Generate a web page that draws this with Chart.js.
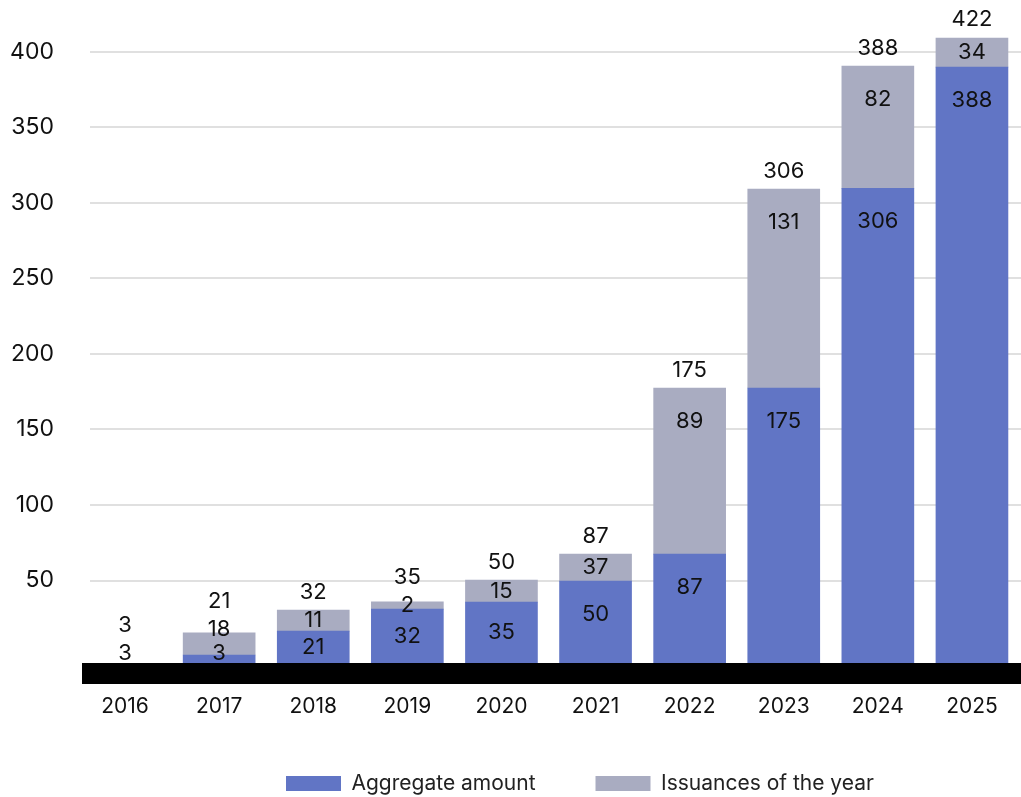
<!DOCTYPE html>
<html>
<head>
<meta charset="utf-8">
<script src="https://cdn.jsdelivr.net/npm/chart.js@4.4.1/dist/chart.umd.min.js"></script>
<style>
html,body{margin:0;padding:0;background:#ffffff;}
#wrap{width:1021px;height:797px;}
</style>
</head>
<body>
<div id="wrap"><canvas id="c" width="1021" height="797"></canvas></div>
<script>
// ---- data ----
const years = ['2016','2017','2018','2019','2020','2021','2022','2023','2024','2025'];
// bar heights as drawn in the picture
const aggregateBar = [null, 0.7, 16.5, 31.1, 35.7, 49.6, 67.5, 177.4, 309.5, 389.8];
const issuanceBar  = [null, 14.7, 13.9, 4.8, 14.6, 17.9, 109.9, 131.6, 81.0, 20.5];
// value labels as printed in the picture
const aggregateLabels = [null, '3', '21', '32', '35', '50', '87', '175', '306', '388'];
const issuanceLabels  = ['3', '18', '11', '2', '15', '37', '89', '131', '82', '34'];
const totalLabels     = ['3', '21', '32', '35', '50', '87', '175', '306', '388', '422'];
const yTicks = [50, 100, 150, 200, 250, 300, 350, 400];
const seriesNames = ['Aggregate amount', 'Issuances of the year'];

// ---- styling constants ----
const BLUE = '#6175c5';
const GREY = '#a9acc1';
const TEXT = '#111111';
const Y_MIN = -18.5, Y_MAX = 409.2, BAND_TOP = -4.6;

Chart.defaults.font.family = 'Inter, "Noto Sans", sans-serif';

const decor = {
  id: 'decor',
  afterLayout(chart) {
    const l = chart.legend;
    if (l && l.lineWidths) {
      const pad = l.options.labels.padding;
      const start = (l.left + pad + l.right - l.lineWidths[0]) / 2;
      const d = 286 - start;
      l.left += d; l.right += d;
    }
  },
  beforeDatasetsDraw(chart) {
    const {ctx, scales: {y}} = chart;
    ctx.save();
    ctx.strokeStyle = '#e0e0e0';
    ctx.lineWidth = 2;
    yTicks.forEach(v => {
      const py = Math.round(y.getPixelForValue(v));
      ctx.beginPath();
      ctx.moveTo(90, py);
      ctx.lineTo(chart.width, py);
      ctx.stroke();
    });
    ctx.restore();
  },
  afterDatasetsDraw(chart) {
    const {ctx, chartArea, scales: {x, y}} = chart;
    ctx.save();
    const bandTop = y.getPixelForValue(BAND_TOP);
    ctx.fillStyle = '#000000';
    ctx.fillRect(82, bandTop, chart.width - 82, chartArea.bottom - bandTop);

    ctx.fillStyle = TEXT;
    ctx.font = '22px Inter, "Noto Sans", sans-serif';
    ctx.textAlign = 'center';
    ctx.textBaseline = 'middle';
    const K = 33;
    const floor = bandTop - 9.5;
    years.forEach((_, i) => {
      const cx = x.getPixelForValue(i);
      const agg = aggregateBar[i] ?? 0;
      const iss = issuanceBar[i] ?? 0;
      const darkTop = y.getPixelForValue(agg);
      const greyTop = Math.max(y.getPixelForValue(agg + iss), chartArea.top);
      let darkY = null;
      if (aggregateLabels[i] != null) {
        darkY = Math.min(darkTop + Math.min(K, (bandTop - darkTop) / 2), floor);
        ctx.fillText(aggregateLabels[i], cx, darkY);
      }
      let greyY = Math.min(greyTop + Math.min(K, (darkTop - greyTop) / 2), floor);
      if (darkY !== null) greyY = Math.min(greyY, darkY - 24);
      ctx.fillText(issuanceLabels[i], cx, greyY);
      const totY = Math.min(greyTop - 18, greyY - 28);
      ctx.fillText(totalLabels[i], cx, totY);
    });
    ctx.restore();
  }
};

new Chart(document.getElementById('c'), {
  type: 'bar',
  data: {
    labels: years,
    datasets: [
      { label: seriesNames[0], data: aggregateBar, backgroundColor: BLUE, base: Y_MIN, barThickness: 72 },
      { label: seriesNames[1], data: issuanceBar, backgroundColor: GREY, barThickness: 72 }
    ]
  },
  options: {
    responsive: false,
    animation: false,
    devicePixelRatio: 1,
    layout: { autoPadding: false, padding: { top: 0, left: 0, right: 2, bottom: -7 } },
    scales: {
      x: {
        stacked: true,
        grid: { display: false, drawTicks: false },
        border: { display: false },
        ticks: { color: TEXT, font: { size: 21 }, padding: 10, maxRotation: 0 },
        afterFit(s) { s.height = 29; }
      },
      y: {
        stacked: true,
        min: Y_MIN,
        max: Y_MAX,
        grid: { display: false, drawTicks: false },
        border: { display: false },
        ticks: { color: TEXT, font: { size: 23 }, padding: 24 },
        afterBuildTicks(s) { s.ticks = yTicks.map(v => ({ value: v })); },
        afterFit(s) { s.width = 78; }
      }
    },
    plugins: {
      legend: {
        position: 'bottom',
        labels: { color: '#222222', font: { size: 21 }, boxWidth: 55, boxHeight: 15, padding: 60 }
      },
      tooltip: { enabled: false }
    }
  },
  plugins: [decor]
});
</script>
</body>
</html>
